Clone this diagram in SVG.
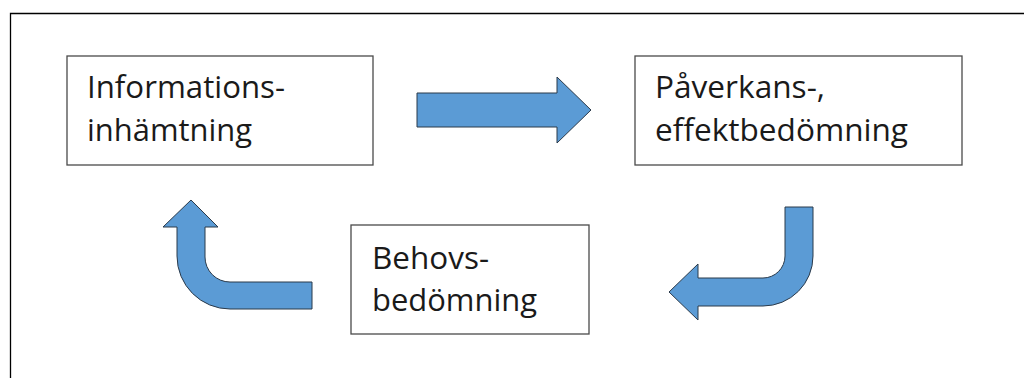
<svg xmlns="http://www.w3.org/2000/svg" width="1024" height="378" viewBox="0 0 1024 378">
<style>
.box{fill:#fff;stroke:#4a4a4a;stroke-width:1.3}
.t{font-family:"Open Sans","Noto Sans","Liberation Sans",sans-serif;font-size:31px;fill:#1a1a1a}
.arr{fill:#5b9bd5;stroke:#2b3a4a;stroke-width:1}
</style>
<rect width="1024" height="378" fill="#fff"/>
<path d="M10.5 378 V13.5 H1024" fill="none" stroke="#000" stroke-width="1.3"/>
<g id="n1">
<rect class="box" x="67" y="56" width="306" height="109"/>
<text class="t" x="87" y="98" textLength="198" lengthAdjust="spacingAndGlyphs">Informations-</text>
<text class="t" x="87" y="141" textLength="165" lengthAdjust="spacingAndGlyphs">inhämtning</text>
</g>
<g id="n2">
<rect class="box" x="635" y="56" width="327" height="109"/>
<text class="t" x="655" y="98" textLength="170" lengthAdjust="spacingAndGlyphs">Påverkans-,</text>
<text class="t" x="655" y="141" textLength="253" lengthAdjust="spacingAndGlyphs">effektbedömning</text>
</g>
<g id="n3">
<rect class="box" x="351" y="225" width="238" height="109"/>
<text class="t" x="372" y="269" textLength="117" lengthAdjust="spacingAndGlyphs">Behovs-</text>
<text class="t" x="372" y="311" textLength="165" lengthAdjust="spacingAndGlyphs">bedömning</text>
</g>
<g id="connectors">
<path class="arr" d="M417 93 H557 V77 L591 110 L557 143 V127 H417 Z"/>
<path class="arr" d="M785 207 H813 V256 A50 50 0 0 1 763 306 H698 V320 L669 292 L698 264 V278 H763 A22 22 0 0 0 785 256 Z"/>
<path class="arr" d="M312 282 V309 H230 A53 53 0 0 1 177 256 V227 H163 L191 200 L218 227 H205 V257 A25 25 0 0 0 230 282 Z"/>
</g>
</svg>
